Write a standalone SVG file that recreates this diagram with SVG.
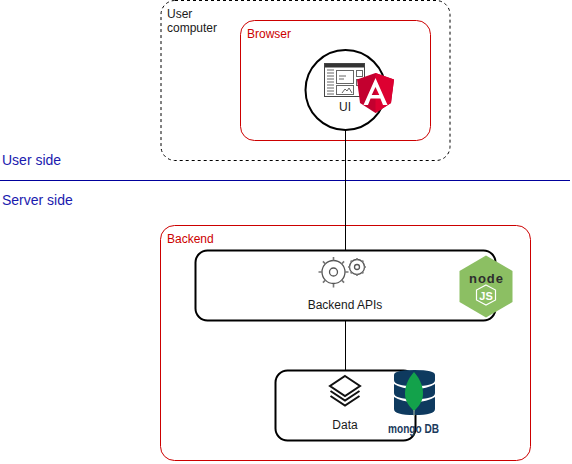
<svg xmlns="http://www.w3.org/2000/svg" width="572" height="464" viewBox="0 0 572 464">
<style>
text{font-family:"Liberation Sans",Arial,sans-serif;font-size:12px;fill:#1a1a1a}
.red{fill:none;stroke:#c00;stroke-width:1}
.blk{fill:#fff;stroke:#000;stroke-width:2}
.rl{fill:#c00}
.side{font-size:14px;fill:#1a1aae}
.gear{fill:none;stroke:#555;stroke-width:1.3}
.tooth{fill:none;stroke:#777;stroke-width:1.6}
</style>
<rect width="572" height="464" fill="#fff"/>
<g id="user-computer">
<rect x="161" y="0.5" width="289" height="160" rx="14" fill="none" stroke="#000" stroke-dasharray="3 3"/>
<text x="167" y="18">User</text><text x="167" y="32">computer</text>
</g>
<g id="browser">
<rect class="red" x="240.500" y="20.500" width="190" height="120" rx="14"/>
<text class="rl" x="247" y="38">Browser</text>
</g>
<g id="side-labels">
<line x1="0" y1="180.500" x2="570" y2="180.500" stroke="#00009c"/>
<text class="side" x="2" y="165">User side</text>
<text class="side" x="2" y="205">Server side</text>
</g>
<g id="backend">
<rect class="red" x="160.500" y="225.500" width="370" height="235" rx="14"/>
<text class="rl" x="167" y="243">Backend</text>
</g>
<g id="connectors" fill="none" stroke="#000">
<line x1="345.500" y1="130" x2="345.500" y2="250"/>
<line x1="345.500" y1="320" x2="345.500" y2="370"/>
</g>
<g id="ui">
<circle class="blk" cx="345.500" cy="90" r="40"/>
<rect x="324.500" y="63.500" width="40" height="33" fill="#fff" stroke="#444"/>
<rect x="325" y="64" width="39" height="3.500" fill="#333"/>
<g fill="none" stroke="#666">
<path d="M327 70h7M327 73h7M327 76h7M327 79h7M327 82h7M327 85h7M327 88h7M327 91h7M327 94h7"/>
<rect x="336.500" y="70.500" width="17" height="13"/>
<rect x="336.500" y="85.500" width="17" height="9"/>
<rect x="356.500" y="70.500" width="6" height="6"/>
<rect x="356.500" y="79.500" width="6" height="6"/>
<path d="M339 76h7M339 79h5M342 93l3-4 2 2 2-3 3 5"/>
</g>
<text x="345" y="111" text-anchor="middle">UI</text>
<path d="M375.500 73 L394 79.500 L391 103 L375.500 113 L360 103 L357 79.500Z" fill="#c3002f"/>
<path d="M375.500 73 L394 79.500 L391 103 L375.500 113Z" fill="#dd0031"/>
<path d="M375.500 78 L363.500 105 H368 L370.600 98.500 H380.400 L383 105 H387.500Z M375.500 87 L379.300 95 H371.700Z" fill="#fff" fill-rule="evenodd"/>
</g>
<g id="backend-apis">
<rect class="blk" x="195.500" y="250.500" width="300" height="70" rx="12"/>
<circle class="gear" cx="333.500" cy="272" r="11.500"/>
<circle class="gear" cx="333.500" cy="272" r="4"/>
<path class="tooth" d="M333.500 257v3.500M333.500 284v3.500M318.500 272h3.500M345 272h3.500M322.900 261.400l2.500 2.500M341.600 280.100l2.500 2.500M344.100 261.400l-2.500 2.500M325.400 280.100l-2.500 2.500"/>
<circle class="gear" cx="357" cy="267" r="7.500"/>
<circle class="gear" cx="357" cy="267" r="2.500"/>
<path class="tooth" d="M357 258v2M357 274v2M348 267h2M364 267h2M350.600 260.600l1.500 1.500M361.900 271.900l1.500 1.500M363.400 260.600l-1.500 1.500M352.100 271.900l-1.500 1.500"/>
<text x="345" y="309" text-anchor="middle">Backend APIs</text>
<path d="M486 255.500 L512.500 271 V302 L486 317.500 L459.500 302 V271Z" fill="#8cbf63"/>
<text x="486" y="283" text-anchor="middle" textLength="34" lengthAdjust="spacing" style="font-size:13px;font-weight:bold;fill:#2e2e2e">node</text>
<path d="M486 285 L495.500 290 V300 L486 305 L476.500 300 V290Z" fill="none" stroke="#fff" stroke-width="1.200"/>
<text x="486" y="300" text-anchor="middle" style="font-size:11px;font-weight:bold;fill:#fff">JS</text>
</g>
<g id="data">
<rect class="blk" x="275.500" y="370.500" width="140" height="70" rx="12"/>
<g fill="none" stroke="#111" stroke-width="2">
<path d="M345 376 L360 386 L345 396 L330 386Z" fill="#fff"/>
<path d="M330.500 391 L345 400.500 L359.500 391"/>
<path d="M330.500 396 L345 405.500 L359.500 396"/>
</g>
<text x="345" y="429" text-anchor="middle">Data</text>
<path d="M394 375 Q394 370 414.500 370 Q435 370 435 375 V380 Q435 386 414.500 386 Q394 386 394 380Z" fill="#0e3a5f"/>
<path d="M394 384 Q402 389 414.500 389 Q427 389 435 384 V393 Q435 399 414.500 399 Q394 399 394 393Z" fill="#0e3a5f"/>
<path d="M394 397 Q402 402 414.500 402 Q427 402 435 397 V409 Q435 415 414.500 415 Q394 415 394 409Z" fill="#0e3a5f"/>
<path d="M414 372 C407 380 405 387 405 394 C405 402 410 407 414 411 C418 407 423 402 423 394 C423 387 421 380 414 372Z" fill="#13a24b"/>
<line x1="414" y1="410" x2="414" y2="416" stroke="#b8c4a8"/>
<text x="413.500" y="433" text-anchor="middle" textLength="51" lengthAdjust="spacingAndGlyphs" style="font-size:13.500px;font-weight:bold;fill:#1b3a5c">mongo DB</text>
</g>
</svg>
